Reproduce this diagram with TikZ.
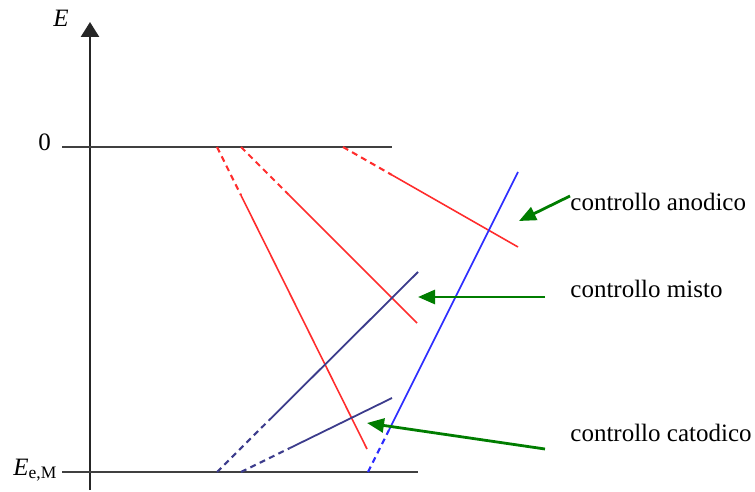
\documentclass[tikz,border=0pt]{standalone}
\usepackage{fontspec}
\setmainfont{Liberation Serif}
\usetikzlibrary{arrows.meta, calc}

\definecolor{anodred}{RGB}{255,45,45}
\definecolor{catnavy}{RGB}{60,60,140}
\definecolor{catblue}{RGB}{45,45,255}
\definecolor{pointgreen}{RGB}{0,125,0}

\begin{document}
\begin{tikzpicture}[
    x=0.5pt, y=-0.5pt,
    axis/.style={line width=1.3pt, black!85},
    level/.style={line width=1.2pt, black!75},
    anodic/.style={line width=0.8pt, anodred},
    mixed/.style={line width=0.9pt, catnavy},
    cathodic/.style={line width=0.8pt, catblue},
    extrap/.style={line width=1.05pt, dash pattern=on 3pt off 2.2pt},
    pointer/.style={line width=1.4pt, pointgreen, -{Triangle[length=8.5pt,width=7pt]}},
    label/.style={font=\fontsize{12.5}{15}\selectfont, anchor=base west, inner sep=0pt},
    axislabel/.style={font=\fontsize{12.5}{15}\selectfont, inner sep=0pt}
]
\useasboundingbox (0,0) rectangle (755,492);

% Axis and levels
\coordinate (axbot) at (90,490);
\coordinate (axtop) at (90,22);
\coordinate (zeroL) at (62,147);
\coordinate (zeroR) at (392,147);
\coordinate (eqL) at (62,472);
\coordinate (eqR) at (418,472);

\draw[axis, -{Triangle[length=7.5pt,width=9pt]}] (axbot) -- (axtop);
\draw[level] (zeroL) -- (zeroR);
\draw[level] (eqL) -- (eqR);

\node[axislabel, anchor=base] (elab) at (61,27) {\itshape E};
\node[axislabel, anchor=base] (zerolab) at (44.5,150) {0};
\node[axislabel, anchor=base west] (eqlab) at (13,475) {\itshape E\textsubscript{\upshape e,M}};

% Anodic lines (red)
\coordinate (r1s) at (217,147);  \coordinate (r1e) at (367,449);
\coordinate (r2s) at (241,147);  \coordinate (r2e) at (417,323);
\coordinate (r3s) at (343,147);  \coordinate (r3e) at (518,247);
\coordinate (r1m) at ($(r1s)!0.16!(r1e)$);
\coordinate (r2m) at ($(r2s)!0.27!(r2e)$);
\coordinate (r3m) at ($(r3s)!0.28!(r3e)$);

\draw[anodic, extrap] (r1s) -- (r1m);
\draw[anodic] (r1m) -- (r1e);
\draw[anodic, extrap] (r2s) -- (r2m);
\draw[anodic] (r2m) -- (r2e);
\draw[anodic, extrap] (r3s) -- (r3m);
\draw[anodic] (r3m) -- (r3e);

% Cathodic lines (blue)
\coordinate (b1s) at (217,472);  \coordinate (b1e) at (418,272);
\coordinate (b2s) at (241,472);  \coordinate (b2e) at (392,398);
\coordinate (b3s) at (368,472);  \coordinate (b3e) at (518,172);
\coordinate (b1m) at ($(b1s)!0.26!(b1e)$);
\coordinate (b2m) at ($(b2s)!0.32!(b2e)$);
\coordinate (b3m) at ($(b3s)!0.14!(b3e)$);

\draw[mixed, extrap] (b1s) -- (b1m);
\draw[mixed] (b1m) -- (b1e);
\draw[mixed, extrap] (b2s) -- (b2m);
\draw[mixed] (b2m) -- (b2e);
\draw[cathodic, extrap] (b3s) -- (b3m);
\draw[cathodic] (b3m) -- (b3e);

% Labels
\node[label] (anod) at (570,210) {controllo anodico};
\node[label] (mist) at (570,297) {controllo misto};
\node[label] (catod) at (570,441) {controllo catodico};

% Arrows
\coordinate (anodtail) at (570,196);
\coordinate (anodtip) at (519,221);
\coordinate (misttail) at (545,297);
\coordinate (misttip) at (418,297);
\coordinate (catodtail) at (545,449);
\coordinate (catodtip) at (367,423);

\draw[pointer] (anodtail) -- (anodtip);
\draw[pointer] (misttail) -- (misttip);
\draw[pointer] (catodtail) -- (catodtip);

\end{tikzpicture}
\end{document}
